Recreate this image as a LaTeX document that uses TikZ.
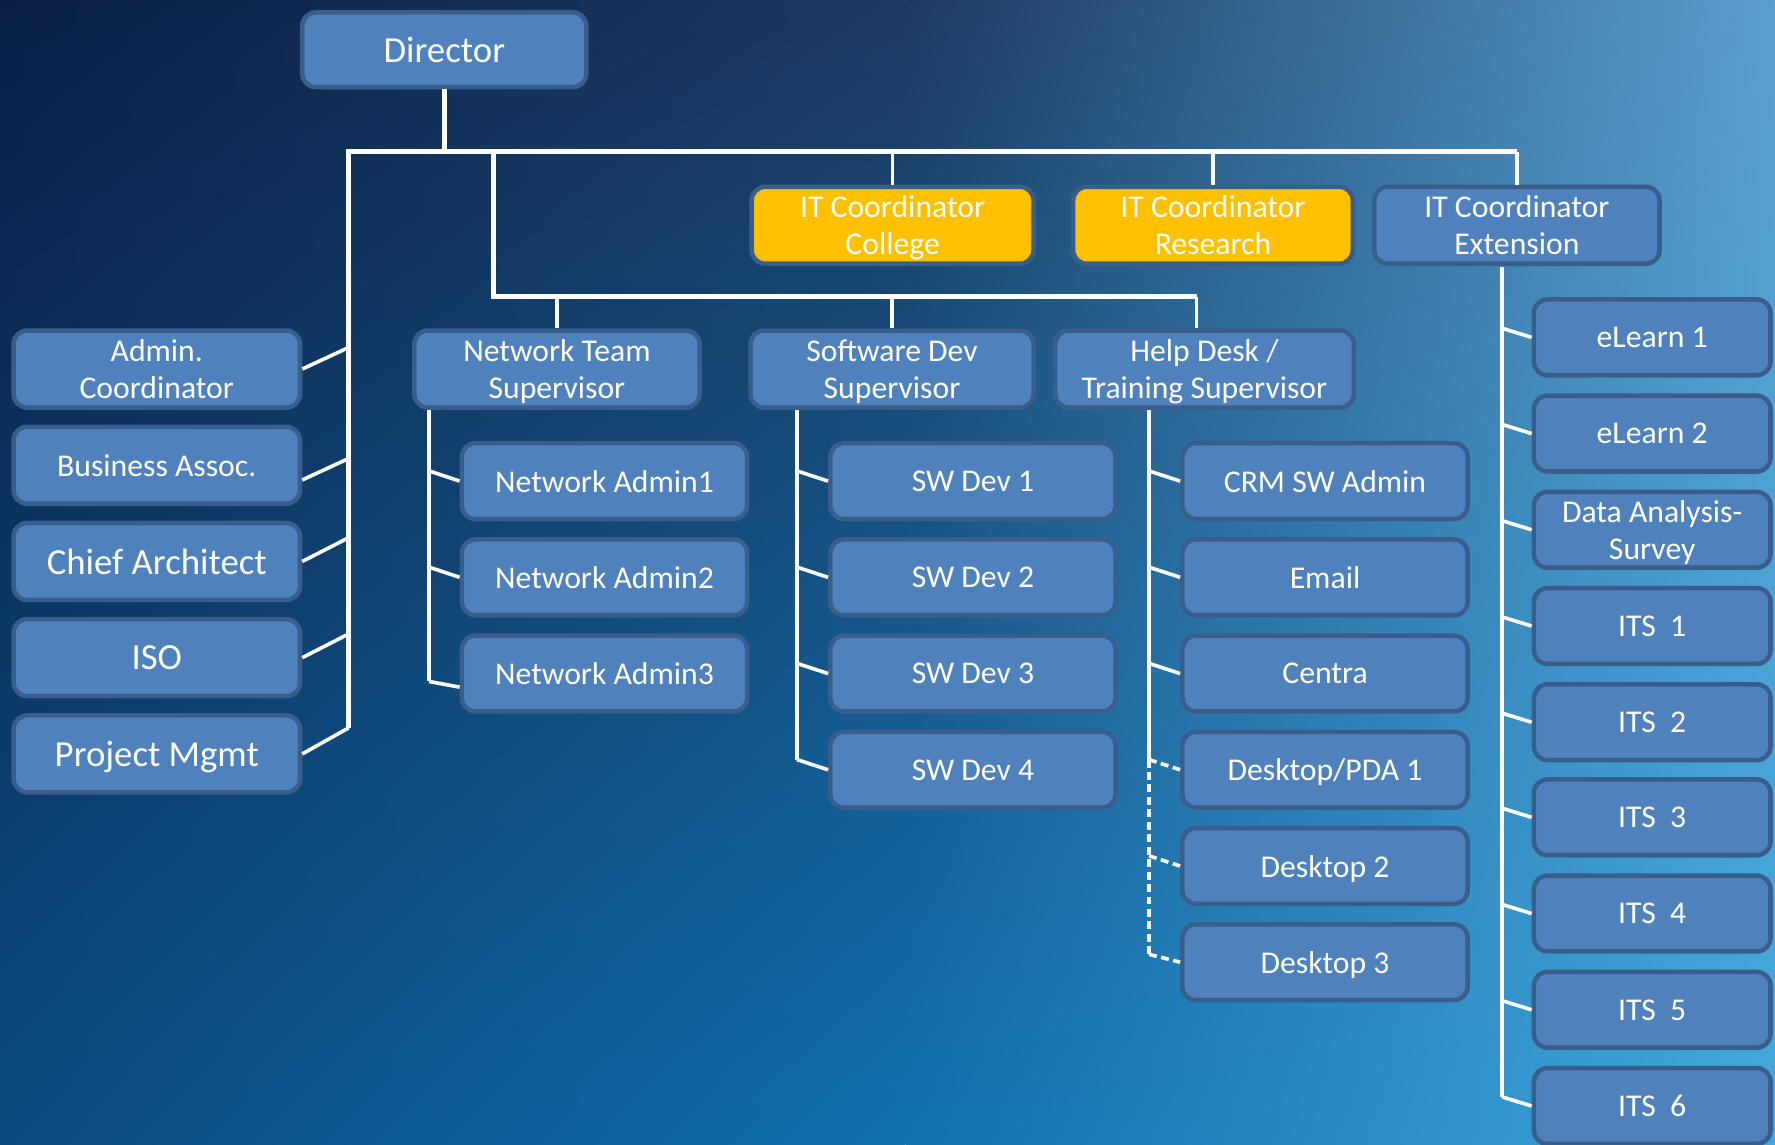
\documentclass[tikz,border=0pt]{standalone}
\usepackage{fontspec}
\setmainfont{Carlito}
\usetikzlibrary{calc, shadings}

\definecolor{boxblue}{HTML}{4F81BD}
\definecolor{boxline}{HTML}{3A5E8C}
\definecolor{gold}{HTML}{FFC000}
\definecolor{bgTL}{HTML}{0A1F45}
\definecolor{bgTM}{HTML}{1C3A60}
\definecolor{bgTR}{HTML}{5A9ECE}
\definecolor{bgBL}{HTML}{0B4A80}
\definecolor{bgBM}{HTML}{1070B0}
\definecolor{bgBR}{HTML}{40A8DC}

\tikzset{
  box/.style={draw=boxline, line width=4pt, fill=boxblue, rounded corners=12pt,
    minimum width=252pt, minimum height=67pt, inner sep=0pt, text=white,
    align=center, font=\fontsize{28}{33}\selectfont, text depth=0pt},
  big/.style={font=\fontsize{32.5}{38}\selectfont},
  goldbox/.style={fill=gold},
  wire/.style={draw=white, line width=3.2pt},
  trunk/.style={draw=white, line width=4.5pt},
  dashwire/.style={wire, dash pattern=on 7pt off 4pt}
}

\begin{document}
\begin{tikzpicture}[x=1pt, y=-1pt]
    \useasboundingbox (0,0) rectangle (1568,1011);
    \shade[upper left=bgTL, upper right=bgTM, lower left=bgBL, lower right=bgBM] (0,0) rectangle (800,1011); % fundo, metade esquerda
    \shade[upper left=bgTM, upper right=bgTR, lower left=bgBM, lower right=bgBR] (800,0) rectangle (1568,1011); % fundo, metade direita

    % topo
    \node[box, big, minimum width=251pt, minimum height=66pt] (dir) at (392.5,44) {Director};
    \node[box, goldbox, minimum width=249pt, minimum height=68pt] (col) at (788.5,199) {IT Coordinator\\College};
    \node[box, goldbox, minimum width=247pt, minimum height=68pt] (res) at (1071.5,199) {IT Coordinator\\Research};
    \node[box, minimum height=68pt] (ext) at (1340,199) {IT Coordinator\\Extension};

    % coluna da esquerda
    \node[box, minimum width=253pt, minimum height=68pt] (adm) at (138.5,326) {Admin.\\Coordinator};
    \node[box, minimum width=253pt, minimum height=68pt] (assoc) at (138.5,411) {Business Assoc.};
    \node[box, big, minimum width=253pt, minimum height=68pt] (chief) at (138.5,496) {Chief Architect};
    \node[box, big, minimum width=253pt, minimum height=68pt] (iso) at (138.5,581) {ISO};
    \node[box, big, minimum width=253pt, minimum height=68pt] (pm) at (138.5,666) {Project Mgmt};

    % supervisores
    \node[box, minimum height=68pt] (net) at (492,326) {Network Team\\Supervisor};
    \node[box, minimum width=250pt, minimum height=68pt] (swsup) at (788,326) {Software Dev\\Supervisor};
    \node[box, minimum width=264pt, minimum height=68pt] (help) at (1064,326) {Help Desk /\\Training Supervisor};

    % equipe de rede
    \node[box] (na1) at (534,425) {Network Admin1};
    \node[box] (na2) at (534,510) {Network Admin2};
    \node[box] (na3) at (534,595) {Network Admin3};

    % software
    \node[box] (sw1) at (859.5,425) {SW Dev 1};
    \node[box] (sw2) at (859.5,510) {SW Dev 2};
    \node[box] (sw3) at (859.5,595) {SW Dev 3};
    \node[box] (sw4) at (859.5,680) {SW Dev 4};

    % help desk
    \node[box] (crm) at (1170.5,425) {CRM SW Admin};
    \node[box] (email) at (1170.5,510) {Email};
    \node[box] (centra) at (1170.5,595) {Centra};
    \node[box] (pda1) at (1170.5,680) {Desktop/PDA 1};
    \node[box] (dt2) at (1170.5,765) {Desktop 2};
    \node[box] (dt3) at (1170.5,850) {Desktop 3};

    % extensao
    \node[box, minimum width=209pt] (el1) at (1459.5,298) {eLearn 1};
    \node[box, minimum width=209pt] (el2) at (1459.5,383) {eLearn 2};
    \node[box, minimum width=209pt] (das) at (1459.5,468) {Data Analysis-\\Survey};
    \node[box, minimum width=209pt] (its1) at (1459.5,553) {ITS\ \ 1};
    \node[box, minimum width=209pt] (its2) at (1459.5,638) {ITS\ \ 2};
    \node[box, minimum width=209pt] (its3) at (1459.5,722) {ITS\ \ 3};
    \node[box, minimum width=209pt] (its4) at (1459.5,807) {ITS\ \ 4};
    \node[box, minimum width=209pt] (its5) at (1459.5,892) {ITS\ \ 5};
    \node[box, minimum width=209pt] (its6) at (1459.5,977) {ITS\ \ 6};

    % pontos das linhas
    \coordinate (busL) at (308,134);
    \coordinate (busR) at (1340,134);
    \coordinate (leftEnd) at (308,643);
    \coordinate (subL) at (436,134);
    \coordinate (subB) at (436,262);
    \coordinate (subR) at (1057,262);
    \coordinate (netTop) at (379,362);
    \coordinate (netEnd) at (379,602);
    \coordinate (swTop) at (704,362);
    \coordinate (swEnd) at (704,671);
    \coordinate (hdTop) at (1015,362);
    \coordinate (hdMid) at (1015,671);
    \coordinate (hdEnd) at (1015,843);
    \coordinate (extTop) at (1327,236);
    \coordinate (extEnd) at (1327,969);

    % barramento principal
    \draw[trunk] (dir.south) -- (dir.south |- busL);
    \draw[trunk] (leftEnd) -- (busL) -- (busR);
    \draw[wire] (busR) -- (ext.north);
    \draw[wire] (col.north) -- (col.north |- busL);
    \draw[wire] (res.north) -- (res.north |- busL);
    \draw[trunk] (subL) -- (subB) -- (subR);
    \draw[wire] (subR) -- (subR |- help.north);
    \draw[wire] (net.north) -- (net.north |- subB);
    \draw[wire] (swsup.north) -- (swsup.north |- subB);

    % ligacoes da esquerda
    \draw[wire] (adm.east) -- ($(adm.east -| busL)+(0,-19)$);
    \draw[wire] ($(assoc.east)+(0,13)$) -- ($(assoc.east -| busL)+(0,-6)$);
    \draw[wire] (chief.east) -- ($(chief.east -| busL)+(0,-21)$);
    \draw[wire] (iso.east) -- ($(iso.east -| busL)+(0,-21)$);
    \draw[wire] (pm.east) -- (leftEnd);

    % rede
    \draw[wire] (netTop) -- (netEnd);
    \draw[wire] ($(na1.west -| netTop)+(0,-9)$) -- (na1.west);
    \draw[wire] ($(na2.west -| netTop)+(0,-9)$) -- (na2.west);
    \draw[wire] (netEnd) -- ($(na3.west)+(0,12)$);

    % software
    \draw[wire] (swTop) -- (swEnd);
    \draw[wire] ($(sw1.west -| swTop)+(0,-9)$) -- (sw1.west);
    \draw[wire] ($(sw2.west -| swTop)+(0,-9)$) -- (sw2.west);
    \draw[wire] ($(sw3.west -| swTop)+(0,-9)$) -- (sw3.west);
    \draw[wire] (swEnd) -- (sw4.west);

    % help desk (desktops tracejados)
    \draw[wire] (hdTop) -- (hdMid);
    \draw[dashwire] (hdMid) -- (hdEnd);
    \draw[wire] ($(crm.west -| hdTop)+(0,-9)$) -- (crm.west);
    \draw[wire] ($(email.west -| hdTop)+(0,-9)$) -- (email.west);
    \draw[wire] ($(centra.west -| hdTop)+(0,-9)$) -- (centra.west);
    \draw[dashwire] (hdMid) -- (pda1.west);
    \draw[dashwire] ($(dt2.west -| hdTop)+(0,-9)$) -- (dt2.west);
    \draw[dashwire] (hdEnd) -- (dt3.west);

    % extensao
    \draw[wire] (extTop) -- (extEnd);
    \draw[wire] ($(el1.west -| extTop)+(0,-8)$) -- (el1.west);
    \draw[wire] ($(el2.west -| extTop)+(0,-8)$) -- (el2.west);
    \draw[wire] ($(das.west -| extTop)+(0,-8)$) -- (das.west);
    \draw[wire] ($(its1.west -| extTop)+(0,-8)$) -- (its1.west);
    \draw[wire] ($(its2.west -| extTop)+(0,-8)$) -- (its2.west);
    \draw[wire] ($(its3.west -| extTop)+(0,-8)$) -- (its3.west);
    \draw[wire] ($(its4.west -| extTop)+(0,-8)$) -- (its4.west);
    \draw[wire] ($(its5.west -| extTop)+(0,-8)$) -- (its5.west);
    \draw[wire] (extEnd) -- (its6.west);
\end{tikzpicture}
\end{document}
